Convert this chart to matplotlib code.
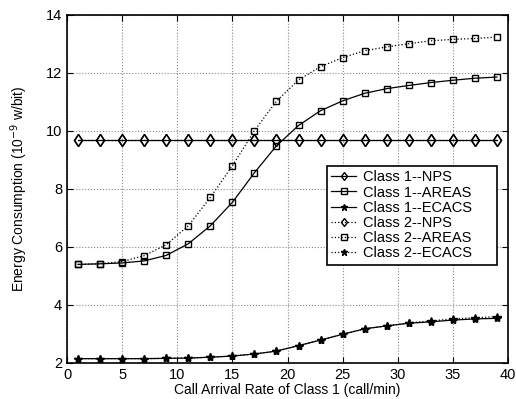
import matplotlib
matplotlib.use("Agg")
import matplotlib.pyplot as plt
import numpy as np

plt.rcParams['font.family'] = ['Liberation Sans', 'DejaVu Sans']

x = [1, 3, 5, 7, 9, 11, 13, 15, 17, 19, 21, 23, 25, 27, 29, 31, 33, 35, 37, 39]
nps1 = [9.7] * 20
nps2 = [9.7] * 20
areas1 = [5.40, 5.42, 5.45, 5.52, 5.71, 6.11, 6.73, 7.54, 8.56, 9.49,
          10.19, 10.70, 11.04, 11.30, 11.46, 11.57, 11.67, 11.75, 11.82, 11.86]
areas2 = [5.40, 5.42, 5.50, 5.70, 6.08, 6.73, 7.71, 8.80, 10.01, 11.03,
          11.76, 12.22, 12.53, 12.77, 12.90, 13.01, 13.11, 13.16, 13.19, 13.24]
ecacs1 = [2.15, 2.15, 2.15, 2.15, 2.16, 2.17, 2.20, 2.24, 2.31, 2.41,
          2.60, 2.79, 2.99, 3.18, 3.28, 3.37, 3.42, 3.48, 3.52, 3.54]
ecacs2 = [2.15, 2.15, 2.15, 2.15, 2.16, 2.17, 2.20, 2.24, 2.31, 2.41,
          2.60, 2.79, 2.99, 3.18, 3.28, 3.38, 3.45, 3.52, 3.56, 3.60]

fig = plt.figure(figsize=(5.16, 3.99), dpi=100)
ax = fig.add_axes([67/516, 1 - 363/399, 441/516, 348/399])

k = dict(color='black', markerfacecolor='none', markeredgecolor='black')
ks = dict(color='black', markerfacecolor='black', markeredgecolor='black')
ax.plot(x, nps1, '-', marker='d', markersize=6, lw=0.9, label='Class 1--NPS', **k)
ax.plot(x, areas1, '-', marker='s', markersize=5, lw=0.9, label='Class 1--AREAS', **k)
ax.plot(x, ecacs1, '-', marker='*', markersize=6, lw=0.9, label='Class 1--ECACS', **ks)
ax.plot(x, nps2, ':', marker='d', markersize=6, lw=0.9, label='Class 2--NPS', **k)
ax.plot(x, areas2, ':', marker='s', markersize=5, lw=0.9, label='Class 2--AREAS', **k)
ax.plot(x, ecacs2, ':', marker='*', markersize=6, lw=0.9, label='Class 2--ECACS', **ks)

ax.set_xlim(0, 40)
ax.set_ylim(2, 14)
ax.set_xticks(range(0, 41, 5))
ax.set_yticks(range(2, 15, 2))
ax.grid(True, linestyle=':', color='#888888', lw=0.8)
ax.tick_params(direction='in', top=True, right=True, labelsize=10.5, length=4)
for s in ax.spines.values():
    s.set_linewidth(1.2)

ax.set_xlabel('Call Arrival Rate of Class 1 (call/min)', fontsize=10, labelpad=1)
ax.set_ylabel('Energy Consumption (10$^{-9}$ w/bit)', fontsize=10)
ax.yaxis.set_label_coords(-0.085, 0.5)

x0 = (327 - 67) / 441
y0 = (363 - 262) / 348
w = 170 / 441
h = 96 / 348
leg = ax.legend(loc='upper left', bbox_to_anchor=(x0, y0, w, h), mode='expand',
                borderaxespad=0, fontsize=10.5, markerscale=0.75,
                frameon=True, fancybox=False, edgecolor='black', framealpha=1,
                handlelength=1.7, borderpad=0.3, labelspacing=0.08,
                handletextpad=0.5)
leg.get_frame().set_linewidth(1.2)

fig.savefig('out.png', dpi=100)
